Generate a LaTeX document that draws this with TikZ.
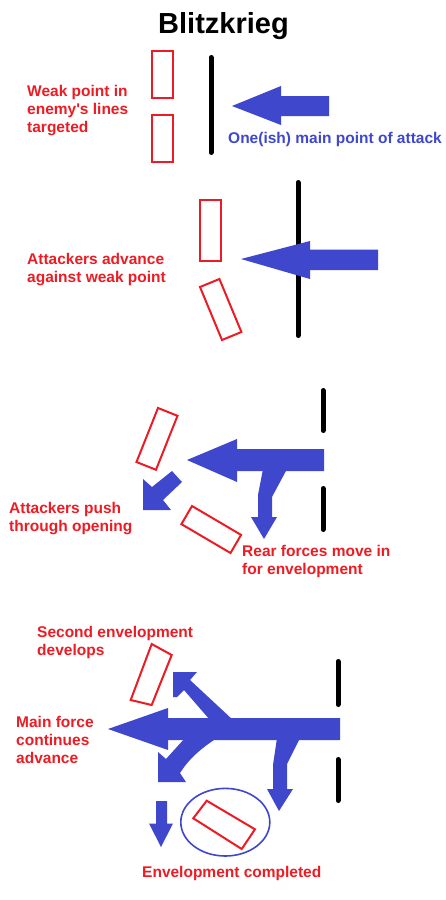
\documentclass[tikz,border=0pt]{standalone}
\usepackage{fontspec}
\setmainfont{Liberation Sans}
\definecolor{indigo}{RGB}{63,72,204}
\definecolor{pred}{RGB}{237,28,36}
\tikzset{
  force/.style={fill=indigo, draw=none},
  unit/.style={draw=pred, line width=2pt, line join=miter},
  enemy/.style={draw=black, line width=5pt, line cap=round},
  lbl/.style={text=pred, font=\bfseries\fontsize{15.5}{17.8}\selectfont, anchor=north west, inner sep=0pt, align=left},
  bluelbl/.style={lbl, text=indigo},
  ring/.style={draw=indigo, line width=1.6pt}
}
\begin{document}
\begin{tikzpicture}[x=1pt,y=-1pt]
\fill[white] (0,0) rectangle (446,900);
\useasboundingbox (0,0) rectangle (446,900);

\node[font=\bfseries\fontsize{29}{34}\selectfont, anchor=base, inner sep=0pt] (title) at (223.5,33.3) {Blitzkrieg};

% ---------- stage 1
\draw[enemy] (211,57.5) -- (211,152.5);
\draw[unit] (152,51) rectangle (173,98);
\draw[unit] (152,115) rectangle (173,162);
\fill[force] (232,106) -- (281,86) -- (281,96) -- (329,96) -- (329,116) -- (281,116) -- (281,125) -- cycle;
\node[lbl] (t1) at (27,85) {Weak point in\\enemy\textquotesingle s lines\\targeted};
\node[bluelbl] (t2) at (228,132) {One(ish) main point of attack};

% ---------- stage 2
\draw[enemy] (298,182.5) -- (298,335.5);
\draw[unit] (200,200) rectangle (221,261);
\draw[unit] (200,287) -- (219.4,279) -- (241.4,332) -- (222,340) -- cycle;
\fill[force] (241,259) -- (310,241) -- (310,249.5) -- (378,249.5) -- (378,270) -- (310,270) -- (310,279) -- cycle;
\node[lbl] (t3) at (27,253) {Attackers advance\\against weak point};

% ---------- stage 3
\draw[enemy] (323,390.5) -- (323,430.5);
\draw[enemy] (323,488.5) -- (323,529.5);
\draw[unit] (158,408) -- (177.5,415.8) -- (156,469.8) -- (136.5,462) -- cycle;
\draw[unit] (192,506) -- (241.1,534.9) -- (230.5,553) -- (181.4,524.1) -- cycle;
\fill[force] (187,460) -- (237,439) -- (237,449) -- (324,449) -- (324,471) -- (237,471) -- (237,482) -- cycle;
\fill[force] (263,469) -- (287,469) -- (272,497) -- (272,517) -- (277,517) -- (264,539) -- (251,517) -- (258,517) -- (258,495) -- cycle;
\fill[force] (172,471) -- (182,482) -- (163,500) -- (171,510) -- (143,510) -- (143,479) -- (152,487) -- cycle;
\node[lbl] (t4) at (9,502.5) {Attackers push\\through opening};
\node[lbl] (t5) at (242,545) {Rear forces move in\\for envelopment};

% ---------- stage 4
\draw[enemy] (338,661.5) -- (338,704.5);
\draw[enemy] (338,759.5) -- (338,800.5);
\draw[unit] (151.7,644) -- (171.7,655) -- (151.7,705) -- (130.7,700) -- cycle;
\fill[force] (108,729) -- (168,708) -- (168,718) -- (340,718) -- (340,740) -- (168,740) -- (168,750) -- cycle;
% upper envelopment
\fill[force] (210,720) -- (184,690) -- (177,697) -- (173,697) -- (173,672) -- (197,672) -- (190,680) -- (233,720) -- cycle;
% lower envelopment
\fill[force] (158,752) -- (166,759) -- (185,738) -- (217,738) .. controls (200,749) and (188,760) .. (180,773) -- (186,782) -- (158,782) -- cycle;
% rear forces
\fill[force] (277,738) -- (300,738) -- (287,764) -- (287,789) -- (293,789) -- (279,811) -- (267,789) -- (273,789) -- (273,765) -- cycle;
% small down arrow
\fill[force] (156,801) -- (167,801) -- (167,823.5) -- (173,823.5) -- (161,847) -- (149,823.5) -- (156,823.5) -- cycle;
\draw[ring] (225.3,822.2) ellipse [x radius=44.5, y radius=33.8];
\draw[unit] (193.3,818.3) -- (206.7,800.7) -- (255,829.3) -- (241.7,849) -- cycle;
\node[lbl] (t6) at (37,626) {Second envelopment\\develops};
\node[lbl] (t7) at (16,716) {Main force\\continues\\advance};
\node[lbl] (t8) at (142,866) {Envelopment completed};
\end{tikzpicture}
\end{document}
